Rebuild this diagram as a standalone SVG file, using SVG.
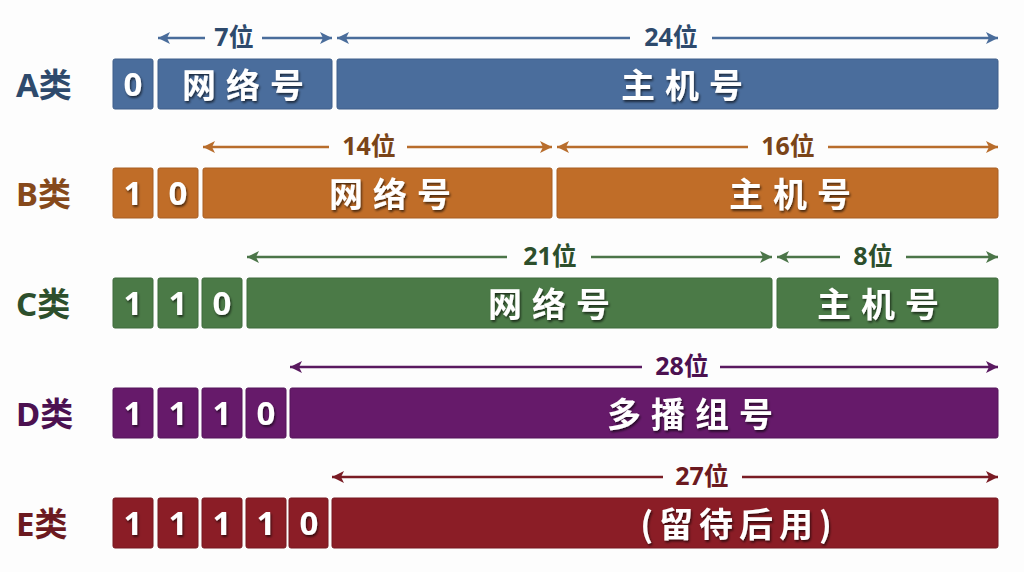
<svg xmlns="http://www.w3.org/2000/svg" width="1024" height="572" viewBox="0 0 1024 572">
<defs>
<filter id="sh" x="-10%" y="-20%" width="120%" height="150%">
<feDropShadow dx="1.2" dy="2" stdDeviation="1.3" flood-color="#000" flood-opacity="0.6"/>
</filter>
<marker id="mA" viewBox="0 0 12 12" refX="12" refY="6" markerWidth="13" markerHeight="12" markerUnits="userSpaceOnUse" orient="auto"><path d="M0,0 L12,6 L0,12 L3,6 z" fill="#4a6d9b"/></marker>
<marker id="mB" viewBox="0 0 12 12" refX="12" refY="6" markerWidth="13" markerHeight="12" markerUnits="userSpaceOnUse" orient="auto"><path d="M0,0 L12,6 L0,12 L3,6 z" fill="#b86d2c"/></marker>
<marker id="mC" viewBox="0 0 12 12" refX="12" refY="6" markerWidth="13" markerHeight="12" markerUnits="userSpaceOnUse" orient="auto"><path d="M0,0 L12,6 L0,12 L3,6 z" fill="#4b7548"/></marker>
<marker id="mD" viewBox="0 0 12 12" refX="12" refY="6" markerWidth="13" markerHeight="12" markerUnits="userSpaceOnUse" orient="auto"><path d="M0,0 L12,6 L0,12 L3,6 z" fill="#5a1a60"/></marker>
<marker id="mE" viewBox="0 0 12 12" refX="12" refY="6" markerWidth="13" markerHeight="12" markerUnits="userSpaceOnUse" orient="auto"><path d="M0,0 L12,6 L0,12 L3,6 z" fill="#7a1c24"/></marker>
</defs>
<style>
text{font-family:"Noto Sans CJK SC","Noto Sans",sans-serif;font-weight:bold;dominant-baseline:central}
.lbl{font-size:33px;text-anchor:start;font-family:"Noto Sans","Noto Sans CJK SC",sans-serif}
.bit{font-size:33px;fill:#fff;text-anchor:middle;filter:url(#sh);font-family:"Noto Sans","Noto Sans CJK SC",sans-serif}
.fld{font-size:34px;fill:#fff;text-anchor:middle;letter-spacing:10px;filter:url(#sh)}
.rsv{font-size:34px;fill:#fff;text-anchor:middle;letter-spacing:6px;filter:url(#sh)}
.cnt{font-size:25px;text-anchor:middle;font-family:"Noto Sans","Noto Sans CJK SC",sans-serif}
.ln{stroke-width:2.5;fill:none}
.a rect{fill:#4a6d9c;stroke:#3f5f8a;stroke-width:1}
.b rect{fill:#c06d28;stroke:#a85e22;stroke-width:1}
.c rect{fill:#4b7a47;stroke:#3f6a3c;stroke-width:1}
.d rect{fill:#661a6a;stroke:#55145a;stroke-width:1}
.e rect{fill:#8b1d26;stroke:#761820;stroke-width:1}
</style>
<rect width="1024" height="572" fill="#fdfdfd"/>

<!-- Row labels -->
<g id="label-A"><text class="lbl" x="16" y="84" fill="#2e4a6c">A类</text></g>
<g id="label-B"><text class="lbl" x="16" y="193" fill="#86491b">B类</text></g>
<g id="label-C"><text class="lbl" x="16" y="303" fill="#2d4f2c">C类</text></g>
<g id="label-D"><text class="lbl" x="16" y="413" fill="#4c1150">D类</text></g>
<g id="label-E"><text class="lbl" x="16" y="523" fill="#6c1a20">E类</text></g>

<!-- Class A -->
<g id="A-bit0" class="a"><rect x="113" y="59" width="40" height="50" rx="2"/><text class="bit" x="133" y="83">0</text></g>
<g id="A-net" class="a"><rect x="158" y="59" width="174" height="50" rx="2"/><text class="fld" x="248" y="83">网络号</text></g>
<g id="A-host" class="a"><rect x="337" y="59" width="661" height="50" rx="2"/><text class="fld" x="687" y="83">主机号</text></g>

<!-- Class B -->
<g id="B-bit0" class="b"><rect x="113" y="168" width="40" height="50" rx="2"/><text class="bit" x="133" y="192">1</text></g>
<g id="B-bit1" class="b"><rect x="158" y="168" width="40" height="50" rx="2"/><text class="bit" x="178" y="192">0</text></g>
<g id="B-net" class="b"><rect x="203" y="168" width="349" height="50" rx="2"/><text class="fld" x="395" y="192">网络号</text></g>
<g id="B-host" class="b"><rect x="557" y="168" width="441" height="50" rx="2"/><text class="fld" x="795" y="192">主机号</text></g>

<!-- Class C -->
<g id="C-bit0" class="c"><rect x="113" y="278" width="40" height="50" rx="2"/><text class="bit" x="133" y="302">1</text></g>
<g id="C-bit1" class="c"><rect x="158" y="278" width="40" height="50" rx="2"/><text class="bit" x="178" y="302">1</text></g>
<g id="C-bit2" class="c"><rect x="202" y="278" width="40" height="50" rx="2"/><text class="bit" x="222" y="302">0</text></g>
<g id="C-net" class="c"><rect x="247" y="278" width="525" height="50" rx="2"/><text class="fld" x="554" y="302">网络号</text></g>
<g id="C-host" class="c"><rect x="777" y="278" width="221" height="50" rx="2"/><text class="fld" x="883" y="302">主机号</text></g>

<!-- Class D -->
<g id="D-bit0" class="d"><rect x="113" y="388" width="40" height="50" rx="2"/><text class="bit" x="133" y="412">1</text></g>
<g id="D-bit1" class="d"><rect x="158" y="388" width="40" height="50" rx="2"/><text class="bit" x="178" y="412">1</text></g>
<g id="D-bit2" class="d"><rect x="202" y="388" width="40" height="50" rx="2"/><text class="bit" x="222" y="412">1</text></g>
<g id="D-bit3" class="d"><rect x="246" y="388" width="40" height="50" rx="2"/><text class="bit" x="266" y="412">0</text></g>
<g id="D-group" class="d"><rect x="290" y="388" width="708" height="50" rx="2"/><text class="fld" x="695" y="412">多播组号</text></g>

<!-- Class E -->
<g id="E-bit0" class="e"><rect x="113" y="498" width="40" height="50" rx="2"/><text class="bit" x="133" y="522">1</text></g>
<g id="E-bit1" class="e"><rect x="158" y="498" width="40" height="50" rx="2"/><text class="bit" x="178" y="522">1</text></g>
<g id="E-bit2" class="e"><rect x="202" y="498" width="40" height="50" rx="2"/><text class="bit" x="222" y="522">1</text></g>
<g id="E-bit3" class="e"><rect x="246" y="498" width="40" height="50" rx="2"/><text class="bit" x="266" y="522">1</text></g>
<g id="E-bit4" class="e"><rect x="289" y="498" width="39" height="50" rx="2"/><text class="bit" x="309" y="522">0</text></g>
<g id="E-reserved" class="e"><rect x="332" y="498" width="666" height="50" rx="2"/><text class="rsv" x="739" y="522">(留待后用)</text></g>

<!-- Connectors (bit-length arrows) -->
<g id="connectors">
<g stroke="#4a6d9b">
<line class="ln" x1="205" y1="38" x2="158" y2="38" marker-end="url(#mA)"/>
<line class="ln" x1="262" y1="38" x2="332" y2="38" marker-end="url(#mA)"/>
<line class="ln" x1="630" y1="38" x2="337" y2="38" marker-end="url(#mA)"/>
<line class="ln" x1="712" y1="38" x2="998" y2="38" marker-end="url(#mA)"/>
</g>
<g stroke="#b86d2c">
<line class="ln" x1="329" y1="147" x2="203" y2="147" marker-end="url(#mB)"/>
<line class="ln" x1="407" y1="147" x2="552" y2="147" marker-end="url(#mB)"/>
<line class="ln" x1="748" y1="147" x2="557" y2="147" marker-end="url(#mB)"/>
<line class="ln" x1="828" y1="147" x2="998" y2="147" marker-end="url(#mB)"/>
</g>
<g stroke="#4b7548">
<line class="ln" x1="507" y1="257" x2="247" y2="257" marker-end="url(#mC)"/>
<line class="ln" x1="591" y1="257" x2="772" y2="257" marker-end="url(#mC)"/>
<line class="ln" x1="840" y1="257" x2="777" y2="257" marker-end="url(#mC)"/>
<line class="ln" x1="906" y1="257" x2="998" y2="257" marker-end="url(#mC)"/>
</g>
<g stroke="#5a1a60">
<line class="ln" x1="642" y1="367" x2="290" y2="367" marker-end="url(#mD)"/>
<line class="ln" x1="720" y1="367" x2="998" y2="367" marker-end="url(#mD)"/>
</g>
<g stroke="#7a1c24">
<line class="ln" x1="663" y1="477" x2="332" y2="477" marker-end="url(#mE)"/>
<line class="ln" x1="742" y1="477" x2="998" y2="477" marker-end="url(#mE)"/>
</g>
<text class="cnt" x="234" y="36" fill="#2e4a6c">7位</text>
<text class="cnt" x="671" y="36" fill="#2e4a6c">24位</text>
<text class="cnt" x="369" y="145" fill="#7a4418">14位</text>
<text class="cnt" x="788" y="145" fill="#7a4418">16位</text>
<text class="cnt" x="550" y="255" fill="#2d4f2c">21位</text>
<text class="cnt" x="873" y="255" fill="#2d4f2c">8位</text>
<text class="cnt" x="682" y="365" fill="#4c1150">28位</text>
<text class="cnt" x="702" y="475" fill="#6c1a20">27位</text>
</g>
</svg>
